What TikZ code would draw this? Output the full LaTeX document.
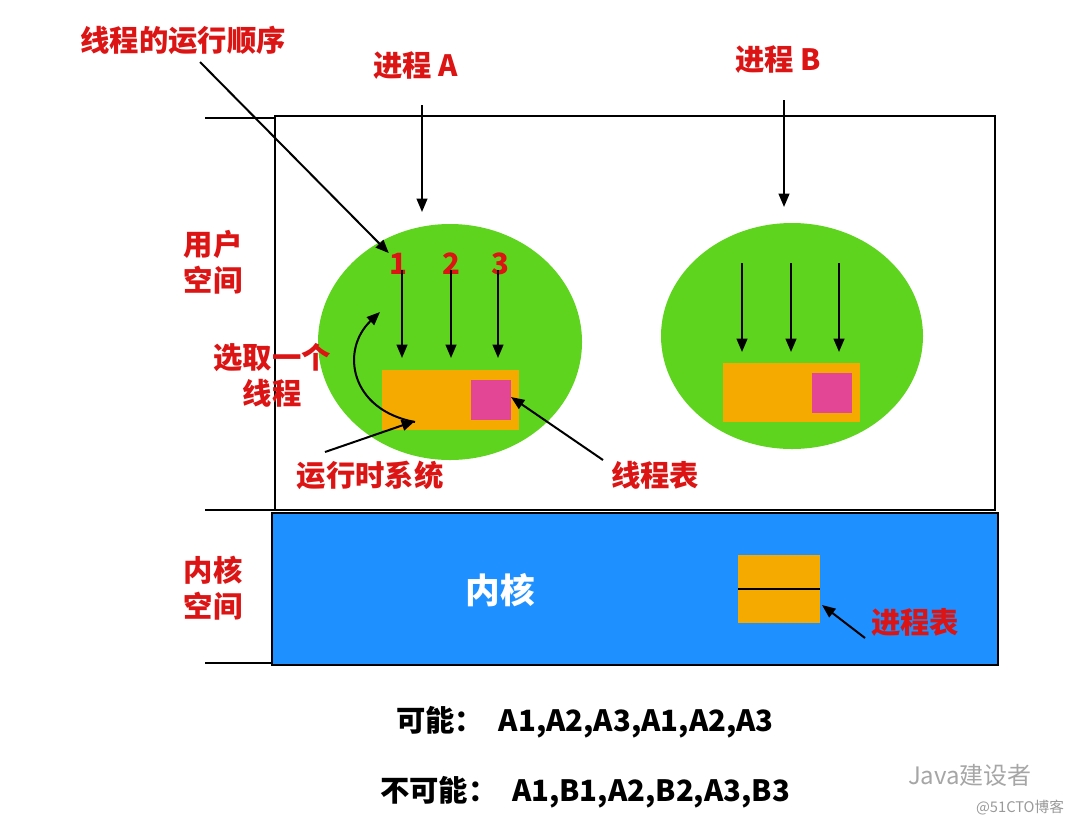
\documentclass[tikz,border=0pt]{standalone}
\usepackage{fontspec}
\setmainfont{Noto Sans CJK SC}
\usetikzlibrary{arrows.meta}
\definecolor{tred}{RGB}{220,20,20}
\definecolor{tgreen}{RGB}{95,212,30}
\definecolor{torange}{RGB}{245,170,0}
\definecolor{tpink}{RGB}{228,70,150}
\definecolor{tblue}{RGB}{30,144,255}
\begin{document}
\begin{tikzpicture}[x=0.75pt,y=-0.75pt,
  lab/.style={text=tred,font=\fontsize{22}{27}\selectfont\bfseries,align=center},
  arr/.style={-{Triangle[length=10pt,width=8pt]},line width=1.5pt},
  thin/.style={line width=0.8pt}]
\useasboundingbox (0,0) rectangle (1080,825);
\draw[thin] (275,116) rectangle (995,510);
\draw[thin,fill=tblue] (272,513) rectangle (998,665);
\draw[thin] (205,118)--(275,118) (205,510)--(275,510) (205,663)--(272,663);
\node[lab] (us) at (213,262) {用户\\空间};
\node[lab] (ks) at (213,588) {内核\\空间};
\fill[tgreen] (450,342) ellipse [x radius=132,y radius=118];
\fill[tgreen] (792,336) ellipse [x radius=131,y radius=113];
\fill[torange] (382,370) rectangle (519,430);
\fill[tpink] (471,380) rectangle (511,420);
\fill[torange] (723,363) rectangle (860,422);
\fill[tpink] (812,373) rectangle (852,413);
\coordinate (rt) at (415,421);
\coordinate (tt) at (511,397);
\foreach \x/\n in {398/1,451/2,500/3}{
  \node[lab,inner sep=0] (n\n) at (\x,264) {\n};}
\foreach \x/\n in {402/1,451/2,498/3}{
  \coordinate (t\n) at (\x,358);
  \draw[arr] (\x,270) -- (t\n);}
\foreach \x in {742,791,839}{\draw[arr] (\x,263)--(\x,352);}
\node[lab] (pa) at (416,66) {进程 A};
\node[lab] (pb) at (778,60) {进程 B};
\coordinate (pae) at (422,212); \coordinate (pbe) at (784,207);
\draw[arr] (422,105)--(pae);
\draw[arr] (784,100)--(pbe);
\node[lab] (ord) at (183,40) {线程的运行顺序};
\draw[arr] (200,62)--(n1.north west);
\node[lab] (sel) at (272,375) {选取一个\\线程};
\coordinate (cs) at (380,312);
\draw[arr] (415,422) .. controls (350,410) and (340,350) .. (cs);
\node[lab] (rts) at (370,475) {运行时系统};
\draw[arr] (325,452)--(rt);
\node[lab] (tbl) at (655,475) {线程表};
\draw[arr] (603,460)--(tt);
\node[text=white,font=\fontsize{26}{30}\selectfont\bfseries] (kn) at (500,590) {内核};
\draw[fill=torange,draw=none] (738,555) rectangle (820,623);
\draw[line width=1.5pt] (738,589)--(820,589);
\coordinate (pt) at (822,605);
\node[lab] (ptl) at (915,622) {进程表};
\draw[arr] (865,638)--(pt);
\node[font=\fontsize{22}{27}\selectfont\bfseries] (p1) at (585,722) {可能：\enspace A1,A2,A3,A1,A2,A3};
\node[font=\fontsize{22}{27}\selectfont\bfseries] (p2) at (585,792) {不可能：\enspace A1,B1,A2,B2,A3,B3};
\node[text=gray!70,font=\fontsize{18}{22}\selectfont] (w1) at (970,775) {Java建设者};
\node[text=gray!80,font=\fontsize{11}{13}\selectfont] (w2) at (1020,808) {@51CTO博客};
\end{tikzpicture}
\end{document}
